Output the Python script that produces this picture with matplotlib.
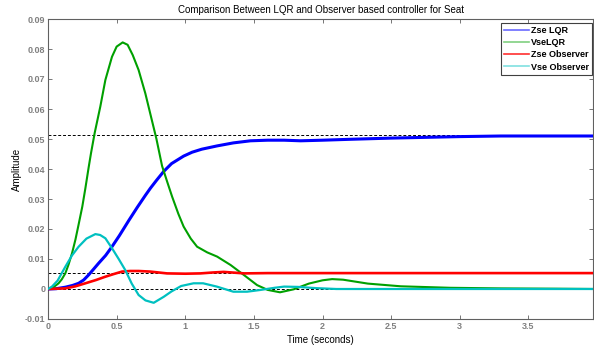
import matplotlib
matplotlib.use("Agg")
import matplotlib.pyplot as plt
from matplotlib.lines import Line2D

plt.rcParams['font.family'] = ['Liberation Sans', 'DejaVu Sans']

title = "Comparison Between LQR and Observer based controller for Seat"
xlabel = "Time (seconds)"
ylabel = "Amplitude"
series_names = ["Zse LQR", "VseLQR", "Zse Observer", "Vse Observer"]

t_zse_lqr = [0, 0.06, 0.126, 0.18, 0.223, 0.26, 0.296, 0.33, 0.369, 0.42, 0.466, 0.52, 0.588, 0.65, 0.709, 0.746, 0.79, 0.843, 0.9, 0.988, 1.05, 1.12, 1.232, 1.35, 1.475, 1.6, 1.72, 1.84, 2.0, 2.2, 2.5, 2.8, 3.0, 3.3, 3.6, 4.0]
zse_lqr = [0, 0.0001, 0.0006, 0.0012, 0.0019, 0.003, 0.0047, 0.0065, 0.0086, 0.0112, 0.0141, 0.0178, 0.0228, 0.0272, 0.0312, 0.0336, 0.0362, 0.0392, 0.0418, 0.0443, 0.0456, 0.0466, 0.0477, 0.0487, 0.0494, 0.0496, 0.0496, 0.0494, 0.0496, 0.0499, 0.0503, 0.0506, 0.0508, 0.051, 0.051, 0.051]

t_vse_lqr = [0, 0.04, 0.077, 0.1, 0.126, 0.15, 0.175, 0.2, 0.223, 0.25, 0.272, 0.296, 0.313, 0.34, 0.381, 0.418, 0.466, 0.5, 0.544, 0.58, 0.617, 0.66, 0.709, 0.75, 0.79, 0.831, 0.87, 0.904, 0.95, 0.988, 1.04, 1.086, 1.16, 1.232, 1.33, 1.426, 1.523, 1.6, 1.69, 1.79, 1.9, 2.0, 2.07, 2.15, 2.33, 2.57, 2.93, 3.3, 3.7, 4.0]
vse_lqr = [0, 0.0006, 0.0019, 0.0032, 0.0052, 0.0082, 0.0119, 0.0165, 0.0215, 0.0275, 0.0335, 0.0405, 0.0452, 0.052, 0.0608, 0.0697, 0.0774, 0.0808, 0.0822, 0.0814, 0.078, 0.073, 0.0652, 0.0575, 0.05, 0.041, 0.0355, 0.0308, 0.025, 0.0208, 0.0168, 0.0141, 0.0122, 0.0108, 0.008, 0.0047, 0.0013, -0.0003, -0.0011, -0.0001, 0.0018, 0.0029, 0.0033, 0.0031, 0.0018, 0.0009, 0.0004, 0.0002, 0.0001, 0.0]

t_zse_obs = [0, 0.06, 0.126, 0.2, 0.272, 0.35, 0.418, 0.48, 0.539, 0.6, 0.66, 0.746, 0.867, 1.0, 1.11, 1.2, 1.28, 1.43, 1.6, 2.0, 3.0, 4.0]
zse_obs = [0, 0.0001, 0.0002, 0.0009, 0.0019, 0.003, 0.0041, 0.005, 0.0058, 0.006, 0.006, 0.0058, 0.0052, 0.0051, 0.0052, 0.0055, 0.0057, 0.0052, 0.0053, 0.0053, 0.0053, 0.0053]

t_vse_obs = [0, 0.029, 0.07, 0.126, 0.175, 0.223, 0.28, 0.345, 0.38, 0.418, 0.466, 0.515, 0.563, 0.61, 0.66, 0.71, 0.77, 0.843, 0.9, 0.97, 1.06, 1.13, 1.23, 1.35, 1.45, 1.55, 1.65, 1.72, 1.82, 1.95, 2.1, 2.5, 3.0, 4.0]
vse_obs = [0, 0.0008, 0.0028, 0.0074, 0.0112, 0.0141, 0.0168, 0.0183, 0.018, 0.0169, 0.0136, 0.01, 0.0063, 0.0018, -0.002, -0.0038, -0.0046, -0.0026, -0.0008, 0.001, 0.0019, 0.0019, 0.0008, -0.0009, -0.0009, -0.0003, 0.0004, 0.0008, 0.0007, 0.0003, 0.0, 0.0, 0.0, 0.0]

ref_levels = [0.0513, 0.0054, 0.0]

xticks = [0, 0.5, 1, 1.5, 2, 2.5, 3, 3.5]
xtick_labels = ["0", "0.5", "1", "1.5", "2", "2.5", "3", "3.5"]
yticks = [-0.01, 0, 0.01, 0.02, 0.03, 0.04, 0.05, 0.06, 0.07, 0.08, 0.09]
ytick_labels = ["-0.01", "0", "0.01", "0.02", "0.03", "0.04", "0.05", "0.06", "0.07", "0.08", "0.09"]

fig = plt.figure(figsize=(5.94, 3.49), dpi=100)
ax = fig.add_axes([48/594, 30/349, 545/594, 300/349])

for lev in ref_levels:
    ax.axhline(lev, color='black', linestyle=(0, (3, 2)), linewidth=0.7, zorder=1)

ax.plot(t_zse_lqr, zse_lqr, color='#0000ff', linewidth=2.2, zorder=3)
ax.plot(t_vse_lqr, vse_lqr, color='#00a000', linewidth=1.5, zorder=3)
ax.plot(t_zse_obs, zse_obs, color='#ff0000', linewidth=1.9, zorder=4)
ax.plot(t_vse_obs, vse_obs, color='#00c0c0', linewidth=1.6, zorder=4)

handles = [Line2D([], [], color='#6a6aff', lw=1.2),
           Line2D([], [], color='#80d080', lw=1.2),
           Line2D([], [], color='#ff3030', lw=1.2),
           Line2D([], [], color='#80e0e0', lw=1.2)]
leg = ax.legend(handles, series_names, loc='upper right', bbox_to_anchor=(0.998, 0.987),
                borderaxespad=0, frameon=True, fancybox=False, handlelength=2.8,
                borderpad=0.35, labelspacing=0.35, handletextpad=0.15,
                prop={'weight': 'bold', 'size': 6.5})
leg.get_frame().set_edgecolor('#404040')
leg.get_frame().set_linewidth(0.8)
leg.get_frame().set_alpha(1)

ax.set_xlim(0, 3.97)
ax.set_ylim(-0.01, 0.09)
ax.set_xticks(xticks)
ax.set_xticklabels(xtick_labels)
ax.set_yticks(yticks)
ax.set_yticklabels(ytick_labels)
ax.tick_params(direction='in', top=True, right=True, length=3, width=0.6,
               labelsize=6.5, labelcolor='#808080', color='#606060', pad=2)
for lbl in ax.get_xticklabels() + ax.get_yticklabels():
    lbl.set_fontweight('bold')
for s in ax.spines.values():
    s.set_color('#606060')
    s.set_linewidth(0.8)

ax.set_title(title, fontsize=7, pad=4)
ax.set_xlabel(xlabel, fontsize=7, labelpad=3)
ax.set_ylabel(ylabel, fontsize=7, labelpad=2)

fig.savefig("out.png", dpi=100)
